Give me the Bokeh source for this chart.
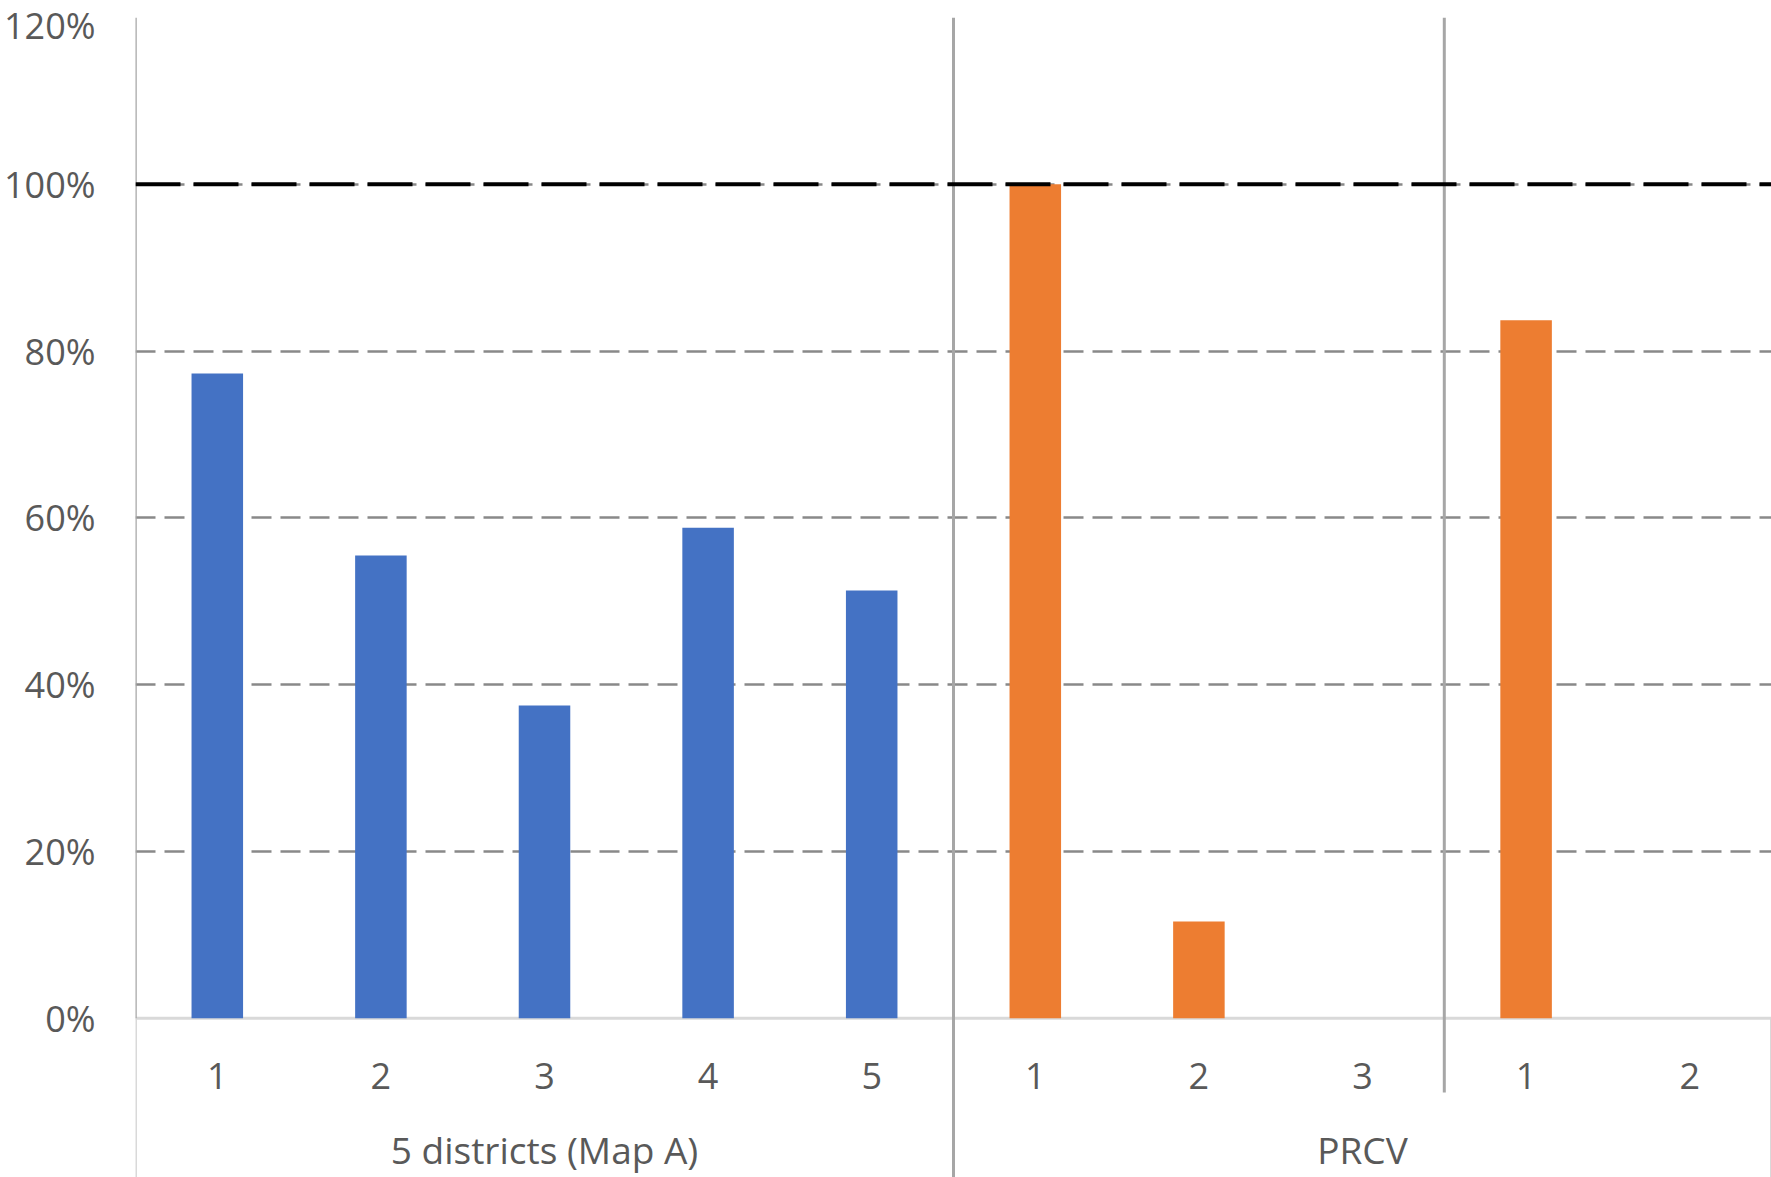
from bokeh.plotting import figure
from bokeh.models import FixedTicker, NumeralTickFormatter, ColumnDataSource, Span
from bokeh.core.properties import value
from bokeh.embed import file_html
from bokeh.resources import INLINE

# ---- data ----
sub_labels = ["1", "2", "3", "4", "5", "1", "2", "3", "1", "2"]
shares = [0.773, 0.555, 0.375, 0.588, 0.513, 1.0, 0.116, 0.0, 0.837, 0.0]
series = ["5 districts (Map A)"] * 5 + ["PRCV"] * 5
group_names = ["5 districts (Map A)", "PRCV"]
group_sizes = [5, 5]
subgroup_sizes = [5, 3, 2]
reference_level = 1.0
y_ticks = [0, 0.2, 0.4, 0.6, 0.8, 1.0, 1.2]
palette = {"5 districts (Map A)": "#4472C4", "PRCV": "#ED7D31"}

FONT = "Open Sans"
TXT = "#595959"
Y_BOTTOM = -0.191
Y_SUB = -0.0687
Y_GROUP = -0.1575
Y_SUBSEP = -0.0891

n = len(sub_labels)
xs = [i + 0.5 for i in range(n)]
src = ColumnDataSource(dict(x=xs, top=shares, color=[palette[s] for s in series],
                            label=sub_labels))

p = figure(width=1771, height=1177, x_range=(0, n), y_range=(Y_BOTTOM, y_ticks[-1]),
           output_backend="svg", toolbar_location=None, x_axis_location=None,
           min_border_top=17, min_border_bottom=0, min_border_right=0, min_border_left=135)
p.outline_line_color = None
p.background_fill_color = "white"
p.border_fill_color = "white"
p.xgrid.visible = False

yax = p.yaxis[0]
yax.ticker = FixedTicker(ticks=y_ticks)
yax.formatter = NumeralTickFormatter(format="0%")
yax.axis_line_color = None
yax.major_tick_line_color = None
yax.minor_tick_line_color = None
yax.major_label_text_font = FONT
yax.major_label_text_font_size = "36px"
yax.major_label_text_color = TXT
yax.major_label_standoff = 34

p.ygrid.ticker = FixedTicker(ticks=[t for t in y_ticks if t > 0])
p.ygrid.grid_line_color = "#898989"
p.ygrid.grid_line_width = 2.5
p.ygrid.grid_line_dash = "20 9"

# zero line and category-axis frame lines
p.segment(x0=[0], y0=[0], x1=[n], y1=[0], line_color="#d9d9d9", line_width=3)
p.segment(x0=[0, n], y0=[Y_BOTTOM, Y_BOTTOM], x1=[0, n], y1=[0, 0],
          line_color="#d9d9d9", line_width=3)
p.segment(x0=[0], y0=[0], x1=[0], y1=[y_ticks[-1]], line_color="#a6a6a6", line_width=2.5)

# bars
p.vbar(x="x", top="top", bottom=0, width=0.315, fill_color="color", line_color=None, source=src)

# group separators
gb = group_sizes[0]
p.segment(x0=[gb], y0=[Y_BOTTOM], x1=[gb], y1=[y_ticks[-1]], line_color="#a6a6a6", line_width=3)
sb = subgroup_sizes[0] + subgroup_sizes[1]
p.segment(x0=[sb], y0=[Y_SUBSEP], x1=[sb], y1=[y_ticks[-1]], line_color="#a6a6a6", line_width=3)

# reference line at 100%
p.add_layout(Span(location=reference_level, dimension="width", line_color="black",
                  line_width=4, line_dash="45 13"))

# category labels
p.text(x="x", y=Y_SUB, text="label", source=src, text_font=value(FONT), text_font_size="36px",
       text_color=TXT, text_align="center", text_baseline="middle")
gx = []
start = 0
for s in group_sizes:
    gx.append(start + s / 2)
    start += s
p.text(x=gx, y=[Y_GROUP] * len(gx), text=group_names, text_font=value(FONT),
       text_font_size="37px", text_color=TXT, text_align="center", text_baseline="middle")

open("out.html", "w").write(file_html(p, INLINE))
